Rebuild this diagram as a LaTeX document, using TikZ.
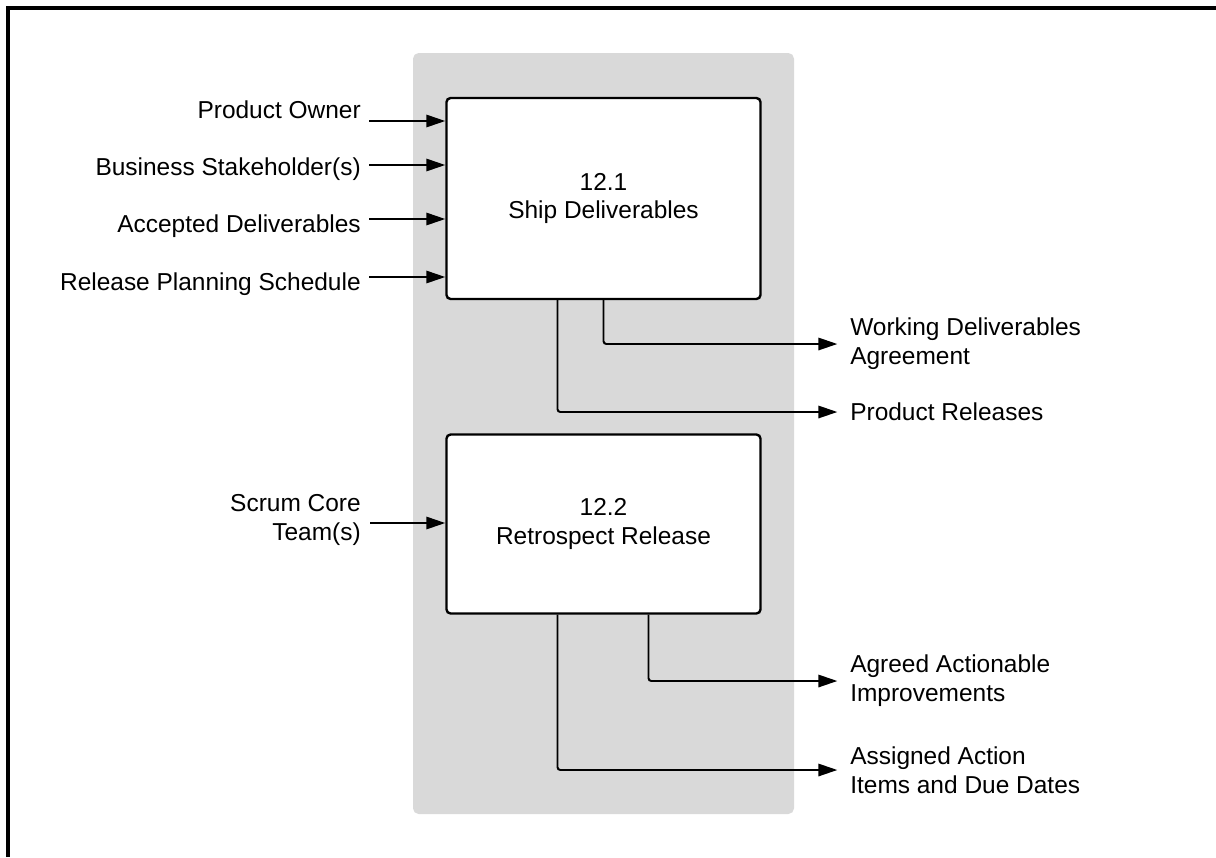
\documentclass[tikz,border=0pt]{standalone}
\usepackage{fontspec}
\setmainfont{Liberation Sans}
\definecolor{panelgray}{HTML}{D9D9D9}
\usetikzlibrary{arrows.meta,calc}

\begin{document}
\begin{tikzpicture}[
  x=0.025cm,y=-0.025cm,
  font=\fontsize{17.4}{20.4}\selectfont,
  process/.style={draw=black,fill=white,line width=1.7pt,rounded corners=3pt,
    minimum width=7.85cm,align=center,inner sep=0pt},
  inlabel/.style={anchor=base east,align=right,inner sep=0pt},
  outlabel/.style={anchor=west,align=left,inner sep=0pt},
  flow/.style={draw=black,line width=1.4pt,rounded corners=2pt,
    -{Triangle[length=13.5pt,width=8.8pt]}}
]
\useasboundingbox (0,0) rectangle (1216,857);
\draw[line width=2.2pt] (8,857) -- (8,8) -- (1216,8);
\fill[panelgray,rounded corners=4pt] (413,53) rectangle (794,814);
% processes
\node[process,minimum height=5.025cm] (ship) at (603.5,198.5)
  {12.1\\Ship Deliverables};
\node[process,minimum height=4.475cm] (retro) at (603.5,524)
  {12.2\\Retrospect Release};
% inputs of 12.1
\node[inlabel] (owner) at (361,118) {Product Owner};
\node[inlabel] (stake) at (361,175) {Business Stakeholder(s)};
\node[inlabel] (accepted) at (361,232) {Accepted Deliverables};
\node[inlabel] (schedule) at (361,290) {Release Planning Schedule};
\coordinate (owner-in) at (369,121);
\coordinate (stake-in) at (369,165);
\coordinate (accepted-in) at (369,219);
\coordinate (schedule-in) at (369,277);
\draw[flow] (owner-in) -- (owner-in -| ship.west);
\draw[flow] (stake-in) -- (stake-in -| ship.west);
\draw[flow] (accepted-in) -- (accepted-in -| ship.west);
\draw[flow] (schedule-in) -- (schedule-in -| ship.west);
% outputs of 12.1
\node[outlabel] (working) at (850,344) {Working Deliverables\\Agreement};
\node[outlabel] (releases) at (850,412) {Product Releases};
\draw[flow,shorten >=9pt] (ship.south) |- (working.west);
\draw[flow,shorten >=9pt] ($(ship.south)+(-46,0)$) |- (releases.west);
% inputs of 12.2
\node[inlabel] (team) at (361,540) {Scrum Core\\Team(s)};
\coordinate (team-in) at (370,523);
\draw[flow] (team-in) -- (team-in -| retro.west);
% outputs of 12.2
\node[outlabel] (improve) at (850,681) {Agreed Actionable\\Improvements};
\node[outlabel] (actions) at (850,770) {Assigned Action\\Items and Due Dates};
\draw[flow,shorten >=9pt] ($(retro.south)+(45,0)$) |- (improve.west);
\draw[flow,shorten >=9pt] ($(retro.south)+(-46,0)$) |- (actions.west);
\end{tikzpicture}
\end{document}
